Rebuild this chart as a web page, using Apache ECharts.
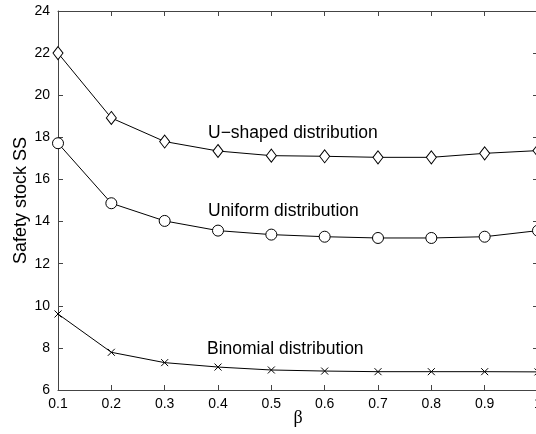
<!DOCTYPE html>
<html>
<head>
<meta charset="utf-8">
<script src="https://cdn.jsdelivr.net/npm/echarts@6/dist/echarts.min.js"></script>
<style>
  html, body { margin: 0; padding: 0; background: #fff; }
  #main { width: 536px; height: 434px; }
</style>
</head>
<body>
<div id="main"></div>
<script>
// beta values on x axis
var betaList = [0.1, 0.2, 0.3, 0.4, 0.5, 0.6, 0.7, 0.8, 0.9, 1.0]
// safety stock per distribution
var uShaped = [22.0, 18.92, 17.8, 17.35, 17.13, 17.1, 17.05, 17.05, 17.24, 17.37]
var uniform = [17.72, 14.87, 14.03, 13.57, 13.38, 13.28, 13.22, 13.22, 13.28, 13.57]
var binomial = [9.61, 7.79, 7.30, 7.09, 6.95, 6.90, 6.87, 6.87, 6.87, 6.86]
var seriesNames = ['U\u2212shaped distribution', 'Uniform distribution', 'Binomial distribution']

var chart = echarts.init(document.getElementById('main'))

function pairs(ys) {
  var out = []
  for (var i = 0; i < betaList.length; i++) out.push([betaList[i], ys[i]])
  return out
}

var axisColor = '#444'
var labelFont = { color: '#000', fontSize: 14, fontFamily: 'Liberation Sans, Arial' }

// 四边框 + 朝内刻度
function xAx(pos, show) {
  return {
    type: 'value', position: pos, min: 0.1, max: 1, interval: 0.1,
    axisLine: { show: true, onZero: false, lineStyle: { color: axisColor, width: 1 } },
    axisTick: { show: true, inside: true, length: 5, lineStyle: { color: axisColor } },
    splitLine: { show: false },
    axisLabel: show ? Object.assign({ margin: 7, formatter: function (v) { return +v.toFixed(1) + '' } }, labelFont) : { show: false },
    name: show ? '\u03b2' : '',
    nameLocation: 'middle', nameGap: 19, nameMoveOverlap: false,
    nameTextStyle: { color: '#000', fontSize: 18, fontFamily: 'Liberation Serif, Times New Roman' }
  }
}
function yAx(pos, show) {
  return {
    type: 'value', position: pos, min: 6, max: 24, interval: 2,
    axisLine: { show: true, onZero: false, lineStyle: { color: axisColor, width: 1 } },
    axisTick: { show: true, inside: true, length: 5, lineStyle: { color: axisColor } },
    splitLine: { show: false },
    axisLabel: show ? Object.assign({ margin: 8 }, labelFont) : { show: false },
    name: show ? 'Safety stock SS' : '',
    nameLocation: 'middle', nameGap: 28, nameRotate: 90, nameMoveOverlap: false,
    nameTextStyle: { color: '#000', fontSize: 18, fontFamily: 'Liberation Sans, Arial' }
  }
}

function line(name, ys, symbol, size) {
  return {
    name: name, type: 'line', data: pairs(ys),
    symbol: symbol, symbolSize: size, showAllSymbol: true,
    lineStyle: { color: '#000', width: 1 },
    itemStyle: { color: '#fff', borderColor: '#000', borderWidth: 1 },
    z: 3
  }
}

var option = {
  animation: false,
  grid: { left: 58, right: -2, top: 11, bottom: 44, outerBoundsMode: 'none' },
  xAxis: [xAx('bottom', true), xAx('top', false)],
  yAxis: [yAx('left', true), yAx('right', false)],
  series: [
    line(seriesNames[0], uShaped, 'diamond', [10, 13]),
    line(seriesNames[1], uniform, 'circle', 11),
    line(seriesNames[2], binomial, 'path://M0,0L10,10M10,0L0,10', 7)
  ],
  graphic: [
    { type: 'text', left: 208, top: 124, style: { text: seriesNames[0], fill: '#000', fontSize: 17.5, fontFamily: 'Liberation Sans, Arial' } },
    { type: 'text', left: 208, top: 202, style: { text: seriesNames[1], fill: '#000', fontSize: 17.5, fontFamily: 'Liberation Sans, Arial' } },
    { type: 'text', left: 207, top: 340, style: { text: seriesNames[2], fill: '#000', fontSize: 17.5, fontFamily: 'Liberation Sans, Arial' } }
  ]
}
chart.setOption(option)
</script>
</body>
</html>
